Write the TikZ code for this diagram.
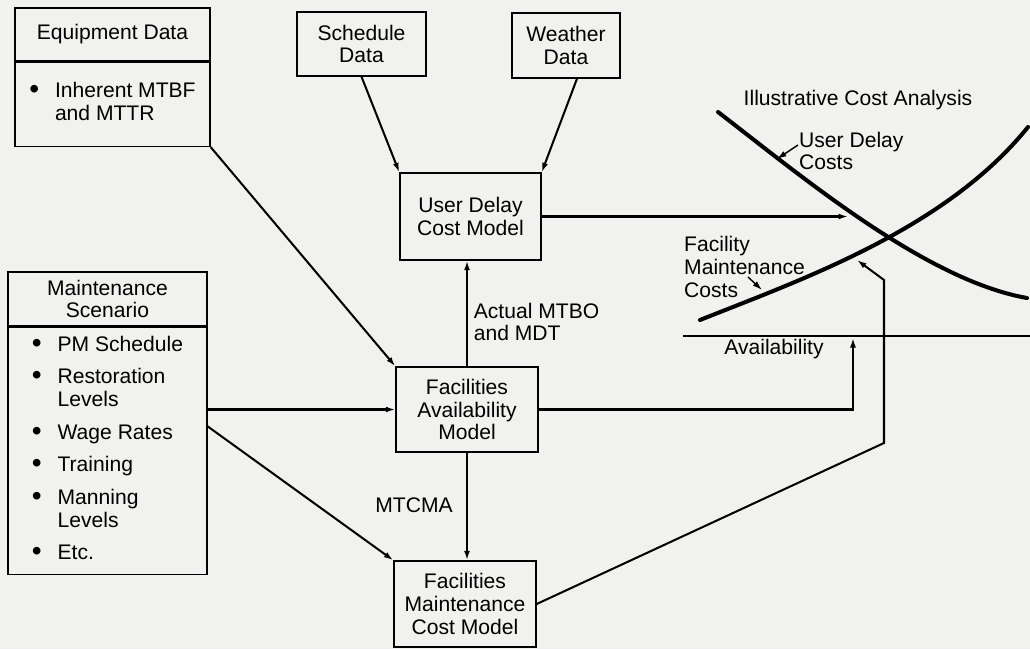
\documentclass[tikz,border=0pt]{standalone}
\usepackage{fontspec}
\setmainfont{Liberation Sans}
\usetikzlibrary{calc,positioning,arrows.meta}
\definecolor{paper}{RGB}{241,241,239}
\newcommand{\diagfont}{\fontsize{12}{13}\selectfont}
\newcommand{\dotitem}{\raisebox{-0.6pt}{\fontsize{16}{13}\selectfont\textbullet}}
\tikzset{
   box/.style={ rectangle, draw=black, thick, text centered, align=center, inner sep=2pt},
   flow/.style={ ->, line width=1.15pt},
   cost curve/.style={ line width=2.3pt, line cap=round},
   leader/.style={ ->, thick},
   >={Latex[length=1.9mm,width=1.2mm]}
}

\begin{document}
\begin{tikzpicture}[font=\diagfont]

  \useasboundingbox[fill=paper] (0,0) rectangle (20.6,-12.98);

  \node[box, minimum width=3.9cm, minimum height=1.06cm] at (2.25,-0.69) (equipment head) {Equipment Data};
  \node[box, minimum width=3.9cm, minimum height=1.68cm, below=0pt of equipment head] (equipment body)
    {\begin{tabular}{@{}l@{\hspace{9pt}}l@{}} \dotitem & Inherent MTBF\\ & and MTTR\end{tabular}};

  \node[box, minimum width=3.98cm, minimum height=1.08cm] at (2.15,-5.98) (maint head) {Maintenance\\Scenario};
  \node[box, minimum width=3.98cm, minimum height=4.94cm, below=0pt of maint head] (maint body)
    {\begin{tabular}{@{}l@{\hspace{9pt}}l@{}}
       \dotitem & PM Schedule\\[5.5pt]
       \dotitem & Restoration\\ & Levels\\[5.5pt]
       \dotitem & Wage Rates\\[5.5pt]
       \dotitem & Training\\[5.5pt]
       \dotitem & Manning\\ & Levels\\[5.5pt]
       \dotitem & Etc.
     \end{tabular}};

  \node[box, minimum width=2.58cm, minimum height=1.28cm] at (7.23,-0.88)  (schedule)     {Schedule\\Data};
  \node[box, minimum width=2.16cm, minimum height=1.3cm]  at (11.32,-0.91) (weather)      {Weather\\Data};
  \node[box, minimum width=2.82cm, minimum height=1.74cm] at (9.41,-4.33)  (user delay)   {User Delay\\Cost Model};
  \node[box, minimum width=2.84cm, minimum height=1.7cm]  at (9.34,-8.19)  (availability) {Facilities\\Availability\\Model};
  \node[box, minimum width=2.84cm, minimum height=1.72cm] at (9.3,-12.08)  (maint cost)   {Facilities\\Maintenance\\Cost Model};

  %% Cost analysis chart
  \node at (17.16,-2.0) (chart title) {Illustrative Cost Analysis};
  \draw[cost curve] (14.36,-2.24) .. controls (16.0,-3.5) and (18.5,-5.6) .. (20.54,-5.96);
  \draw[cost curve] (14.0,-6.4) .. controls (16.0,-5.6) and (18.9,-4.6) .. (20.56,-2.54);
  \draw[semithick] (13.66,-6.72) -- (20.6,-6.72);

  \node[anchor=west, align=left] at (15.86,-3.02) (delay label) {User Delay\\Costs};
  \node[anchor=west, align=left] at (13.56,-5.34) (maint label) {Facility\\Maintenance\\Costs};
  \node at (15.48,-6.98) (axis label) {Availability};

  \node[coordinate] at (15.96,-2.9)  (delay lead)  {};
  \node[coordinate] at (15.54,-3.18) (delay mark)  {};
  \node[coordinate] at (14.96,-5.54) (maint lead)  {};
  \node[coordinate] at (15.24,-5.8)  (maint mark)  {};
  \node[coordinate] at (16.96,-4.33) (delay tip)   {};
  \node[coordinate] at (17.06,-6.76) (avail tip)   {};
  \node[coordinate] at (17.68,-8.86) (cost knee)   {};
  \node[coordinate] at (17.68,-5.6)  (cost top)    {};
  \node[coordinate] at (17.14,-5.2)  (cost tip)    {};

  \draw[leader] (delay lead) -- (delay mark);
  \draw[leader] (maint lead) -- (maint mark);

  %% Inputs
  \draw[flow] (schedule.south) -- (user delay.north west);
  \draw[flow] ($(weather.south)+(0.22,0)$) -- (user delay.north east);
  \draw[flow] (equipment body.south east) -- (availability.north west);
  \draw[flow] (maint body.east |- availability.west) -- (availability.west);
  \draw[flow] ($(maint body.east)+(0,0.49)$) -- (maint cost.north west);

  %% Between models
  \draw[flow] (availability.north) -- node[right, pos=0.42, align=left] {Actual MTBO\\and MDT} (availability.north |- user delay.south);
  \draw[flow] (availability.south) -- node[left, pos=0.49, xshift=-0.15cm] {MTCMA} (availability.south |- maint cost.north);

  %% Into the chart
  \draw[flow] (user delay.east) -- (delay tip);
  \draw[flow] (availability.east) -| (avail tip);
  \draw[flow] (maint cost.east) -- (cost knee) -- (cost top) -- (cost tip);

\end{tikzpicture}
\end{document}
